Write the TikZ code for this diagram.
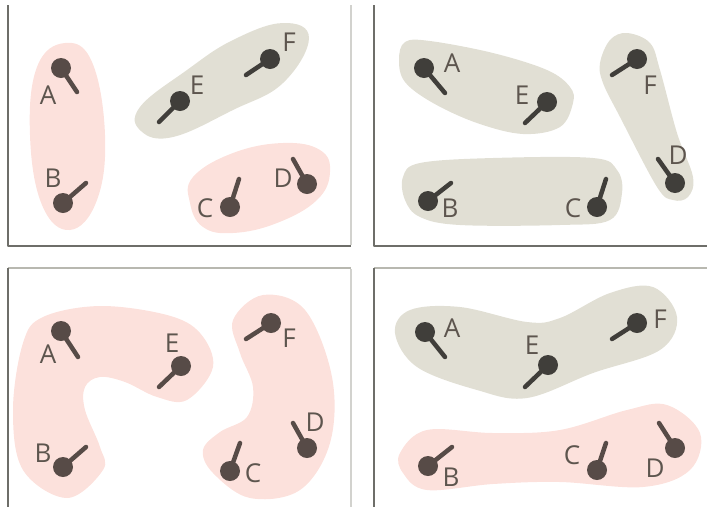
\documentclass[tikz,border=0pt]{standalone}
\usepackage{fontspec}
\setmainfont{Open Sans}
\definecolor{blobpink}{HTML}{FCE1DC}
\definecolor{blobgray}{HTML}{E1DFD4}
\definecolor{pinbrown}{HTML}{574B47}
\definecolor{pingray}{HTML}{403E3A}
\definecolor{labelc}{HTML}{5D554E}
\definecolor{framedark}{HTML}{6E6E69}
\definecolor{framelight}{HTML}{D2D2CE}
\definecolor{frametop}{HTML}{B8B8B0}
\begin{document}
\begin{tikzpicture}[x=1pt, y=-1pt, line join=round, line cap=round,
	pinkblob/.style={fill=blobpink},
	grayblob/.style={fill=blobgray},
	stickp/.style={draw=pinbrown, line width=4.5pt},
	headp/.style={fill=pinbrown},
	stickg/.style={draw=pingray, line width=4.5pt},
	headg/.style={fill=pingray},
	lbl/.style={text=labelc, font=\fontsize{26}{26}\selectfont, inner sep=0pt},
	darkedge/.style={draw=framedark, line width=1.5pt, line cap=butt},
	lightedge/.style={draw=framelight, line width=1.5pt, line cap=butt},
	topedge/.style={draw=frametop, line width=1.5pt, line cap=butt}]
	\useasboundingbox (0,0) rectangle (707,507);
	% frames
	\draw[darkedge] (8,5)--(8,246)--(351,246);
	\draw[lightedge] (351,5)--(351,245);
	\draw[darkedge] (374,5)--(374,246)--(707,246);
	\draw[topedge] (8,268)--(351,268);
	\draw[darkedge] (8,268)--(8,507);
	\draw[lightedge] (351,269)--(351,507);
	\draw[topedge] (374,268)--(707,268);
	\draw[darkedge] (374,268)--(374,507);
	% top left
	\fill[pinkblob] plot[smooth cycle, tension=0.7] coordinates {(65,43) (92,62) (105,135) (97,200) (70,230) (42,205) (30,135) (37,67)};
	\fill[grayblob] plot[smooth cycle, tension=0.7] coordinates {(140,107) (187,70) (233,40) (283,23) (309,38) (283,83) (233,110) (173,137) (141,131)};
	\fill[pinkblob] plot[smooth cycle, tension=0.7] coordinates {(193,177) (233,153) (283,143) (320,150) (330,172) (317,200) (277,223) (233,233) (203,227) (190,203)};
	\coordinate (A1) at (61,68);
	\coordinate (B1) at (63,203);
	\coordinate (C1) at (230,207);
	\coordinate (D1) at (307,184);
	\coordinate (E1) at (180,101);
	\coordinate (F1) at (270,59);
	\draw[stickp] (A1) -- ++(16,24);
	\draw[stickp] (B1) -- ++(23,-20);
	\draw[stickp] (C1) -- ++(9,-28);
	\draw[stickp] (D1) -- ++(-14,-25);
	\draw[stickg] (E1) -- ++(-21,21);
	\draw[stickg] (F1) -- ++(-24,16);
	\fill[headp] (A1) circle (10pt);
	\fill[headp] (B1) circle (10pt);
	\fill[headp] (C1) circle (10pt);
	\fill[headp] (D1) circle (10pt);
	\fill[headg] (E1) circle (10pt);
	\fill[headg] (F1) circle (10pt);
	\node[lbl] (lA1) at (48,95) {A};
	\node[lbl] (lB1) at (53,178) {B};
	\node[lbl] (lC1) at (205,208) {C};
	\node[lbl] (lD1) at (283,178) {D};
	\node[lbl] (lE1) at (197,85) {E};
	\node[lbl] (lF1) at (289,42) {F};
	% top right
	\fill[grayblob] plot[smooth cycle, tension=0.6] coordinates {(405,42) (430,41) (493,53) (547,70) (570,87) (573,103) (560,127) (523,134) (477,123) (433,103) (405,82) (399,60)};
	\fill[grayblob] plot[smooth cycle, tension=0.6] coordinates {(627,33) (650,43) (660,70) (677,133) (693,177) (688,197) (673,200) (657,187) (620,117) (603,83) (600,63) (610,40)};
	\fill[grayblob] plot[smooth cycle, tension=0.6] coordinates {(403,177) (420,163) (493,158) (593,158) (617,170) (622,193) (610,220) (560,225) (460,225) (420,217) (405,200)};
	\coordinate (A2) at (424,68);
	\coordinate (B2) at (428,201);
	\coordinate (C2) at (597,207);
	\coordinate (D2) at (675,183);
	\coordinate (E2) at (547,102);
	\coordinate (F2) at (637,59);
	\draw[stickg] (A2) -- ++(21,25);
	\draw[stickg] (B2) -- ++(23,-18);
	\draw[stickg] (C2) -- ++(9,-28);
	\draw[stickg] (D2) -- ++(-17,-24);
	\draw[stickg] (E2) -- ++(-22,21);
	\draw[stickg] (F2) -- ++(-25,16);
	\fill[headg] (A2) circle (10pt);
	\fill[headg] (B2) circle (10pt);
	\fill[headg] (C2) circle (10pt);
	\fill[headg] (D2) circle (10pt);
	\fill[headg] (E2) circle (10pt);
	\fill[headg] (F2) circle (10pt);
	\node[lbl] (lA2) at (452,63) {A};
	\node[lbl] (lB2) at (450,208) {B};
	\node[lbl] (lC2) at (573,208) {C};
	\node[lbl] (lD2) at (678,155) {D};
	\node[lbl] (lE2) at (522,95) {E};
	\node[lbl] (lF2) at (650,85) {F};
	% bottom left
	\fill[pinkblob] plot[smooth cycle, tension=0.6] coordinates {(43,317) (100,306) (167,315) (200,333) (213,367) (187,400) (157,397) (125,382) (100,377) (85,387) (85,410) (100,447) (103,470) (67,498) (23,470) (13,410) (23,343)};
	\fill[pinkblob] plot[smooth cycle, tension=0.6] coordinates {(263,295) (305,310) (332,377) (330,443) (300,490) (250,498) (213,473) (203,450) (220,432) (247,417) (253,387) (240,353) (233,320)};
	\coordinate (A3) at (61,331);
	\coordinate (B3) at (63,467);
	\coordinate (C3) at (230,471);
	\coordinate (D3) at (307,448);
	\coordinate (E3) at (181,366);
	\coordinate (F3) at (271,323);
	\draw[stickp] (A3) -- ++(17,26);
	\draw[stickp] (B3) -- ++(23,-20);
	\draw[stickp] (C3) -- ++(10,-28);
	\draw[stickp] (D3) -- ++(-14,-25);
	\draw[stickp] (E3) -- ++(-22,21);
	\draw[stickp] (F3) -- ++(-25,16);
	\fill[headp] (A3) circle (10pt);
	\fill[headp] (B3) circle (10pt);
	\fill[headp] (C3) circle (10pt);
	\fill[headp] (D3) circle (10pt);
	\fill[headp] (E3) circle (10pt);
	\fill[headp] (F3) circle (10pt);
	\node[lbl] (lA3) at (48,354) {A};
	\node[lbl] (lB3) at (43,453) {B};
	\node[lbl] (lC3) at (253,473) {C};
	\node[lbl] (lD3) at (315,422) {D};
	\node[lbl] (lE3) at (172,343) {E};
	\node[lbl] (lF3) at (289,338) {F};
	% bottom right
	\fill[grayblob] plot[smooth cycle, tension=0.6] coordinates {(410,310) (460,307) (527,322) (560,318) (610,293) (653,287) (677,317) (660,350) (593,373) (527,398) (477,390) (417,367) (395,333)};
	\fill[pinkblob] plot[smooth cycle, tension=0.6] coordinates {(400,453) (427,430) (493,433) (560,430) (627,410) (667,405) (700,433) (690,470) (643,487) (560,482) (493,484) (427,490) (403,473)};
	\coordinate (A4) at (425,332);
	\coordinate (B4) at (428,466);
	\coordinate (C4) at (597,470);
	\coordinate (D4) at (675,448);
	\coordinate (E4) at (548,365);
	\coordinate (F4) at (637,323);
	\draw[stickg] (A4) -- ++(20,25);
	\draw[stickp] (B4) -- ++(24,-19);
	\draw[stickp] (C4) -- ++(9,-27);
	\draw[stickp] (D4) -- ++(-16,-25);
	\draw[stickg] (E4) -- ++(-23,22);
	\draw[stickg] (F4) -- ++(-25,16);
	\fill[headg] (A4) circle (10pt);
	\fill[headp] (B4) circle (10pt);
	\fill[headp] (C4) circle (10pt);
	\fill[headp] (D4) circle (10pt);
	\fill[headg] (E4) circle (10pt);
	\fill[headg] (F4) circle (10pt);
	\node[lbl] (lA4) at (452,328) {A};
	\node[lbl] (lB4) at (451,477) {B};
	\node[lbl] (lC4) at (572,455) {C};
	\node[lbl] (lD4) at (655,468) {D};
	\node[lbl] (lE4) at (532,345) {E};
	\node[lbl] (lF4) at (660,319) {F};
\end{tikzpicture}
\end{document}
